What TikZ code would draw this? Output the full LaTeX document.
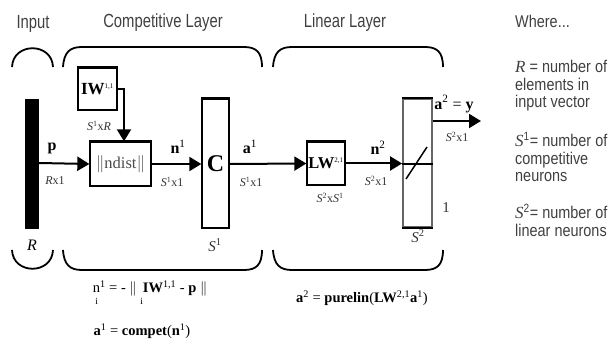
\documentclass[tikz,border=0pt]{standalone}
\usepackage{fontspec}
\setmainfont{Liberation Serif}
\newfontfamily\hdfont[FakeStretch=0.78]{Liberation Sans}
\newfontfamily\rtfont[FakeStretch=0.85]{Liberation Sans}
\usetikzlibrary{arrows.meta}
\newcommand\Sv[1]{\textit{S}\textsuperscript{#1}}
\newcommand\lowi{\raisebox{-0.8em}{\fontsize{9.5}{10}\selectfont i}}
\tikzset{
  brace/.style={line width=1.8pt},
  blk/.style={draw, line width=1.3pt, fill=white, inner sep=0pt},
  conn/.style={line width=2pt, -{Triangle[length=12pt,width=14pt]}},
  hd/.style={font=\hdfont\fontsize{19}{20}\selectfont, text=black!75},
  rt/.style={font=\rtfont\fontsize{17}{17.5}\selectfont, text=black!75, align=left, anchor=north west, inner sep=0pt},
  lab/.style={font=\fontsize{16}{17}\selectfont, inner sep=0pt},
  sm/.style={font=\fontsize{12}{13}\selectfont, inner sep=0pt, text=black!80},
  eq/.style={font=\fontsize{14.5}{15}\selectfont, inner sep=0pt},
}
\begin{document}
\begin{tikzpicture}[x=1pt,y=-1pt]
\useasboundingbox (0,0) rectangle (614,344);
% headings
\node[hd] (hin) at (33,24) {Input};
\node[hd] (hcomp) at (163,23) {Competitive Layer};
\node[hd] (hlin) at (345,23) {Linear Layer};
% braces
\draw[brace] (12,67) .. controls (13,42) and (52,42) .. (53,67);
\draw[brace] (12,250) .. controls (13,275) and (52,275) .. (53,250);
\draw[brace] (63,67) .. controls (64,52) and (70,47) .. (82,47) -- (244,47) .. controls (256,47) and (262,52) .. (262,67);
\draw[brace] (63,250) .. controls (64,265) and (70,270) .. (82,270) -- (244,270) .. controls (256,270) and (262,265) .. (262,250);
\draw[brace] (273,67) .. controls (274,52) and (280,47) .. (292,47) -- (425,47) .. controls (437,47) and (443,52) .. (443,67);
\draw[brace] (273,250) .. controls (274,265) and (280,270) .. (292,270) -- (425,270) .. controls (437,270) and (443,265) .. (443,250);
% input bar
\fill (25,99) rectangle (39,229);
\coordinate (inp) at (39,163);
\node[font=\fontsize{16}{17}\selectfont\itshape, inner sep=0pt] (lR) at (32,245) {R};
% IW box
\node[blk, minimum width=39pt, minimum height=42pt, font=\fontsize{17}{18}\selectfont] (iw) at (97.5,89) {\textbf{IW}\textsuperscript{\scriptsize 1,1}};
\draw[line width=2.4pt] (iw.north west) -- (iw.north east);
% ndist box
\node[blk, minimum width=61pt, minimum height=44pt, font=\fontsize{16.5}{17}\selectfont, text=black!70] (nd) at (120.5,164) {$\|$ndist$\|$};
\draw[line width=2.4pt] (nd.north west) -- (nd.north east);
% C box
\node[blk, minimum width=27pt, minimum height=129pt, font=\bfseries\fontsize{24}{26}\selectfont] (cb) at (215.5,163.5) {C};
\draw[line width=2.4pt] (cb.north west) -- (cb.north east);
% LW box
\node[blk, minimum width=38pt, minimum height=43pt, font=\fontsize{16.5}{17}\selectfont] (lw) at (326,163.5) {\textbf{LW}\textsuperscript{\scriptsize 2,1}};
\draw[line width=2.4pt] (lw.north west) -- (lw.north east);
% linear box
\node[blk, draw=black!60, line width=1.8pt, minimum width=29pt, minimum height=128pt] (lb) at (417.5,163) {};
\draw[line width=2.4pt] (lb.north west) -- (lb.north east);
\draw[line width=1.8pt] (lb.south west) -- (lb.south east);
\draw[line width=1.3pt] (lb.west |- 0,164) -- (lb.east |- 0,164);
\draw[line width=1.5pt] (406,179) -- (427,147);
\coordinate (yout) at (481,121);
% connectors
\draw[conn] (inp) -- (nd.west);
\draw[conn] (iw.east |- 0,89) -- (124,89) -- (124,0 |- nd.north);
\draw[conn] (nd.east) -- (cb.west |- nd.east);
\draw[conn] (cb.east |- nd.east) -- (lw.west);
\draw[conn] (lw.east) -- (lb.west |- lw.east);
\draw[conn] (lb.east |- yout) -- (yout);
% labels
\node[lab] (lp) at (52,148) {\textbf{p}};
\node[sm] (lrx) at (55,181) {\textit{R}x1};
\node[sm] (lsr) at (99,126) {\Sv{1}x\textit{R}};
\node[lab] (ln1) at (178,147) {\textbf{n}\textsuperscript{1}};
\node[sm] (ls1a) at (172,182) {\Sv{1}x1};
\node[lab] (la1) at (250,147) {\textbf{a}\textsuperscript{1}};
\node[sm] (ls1b) at (251,182) {\Sv{1}x1};
\node[sm] (ls1) at (215,245) {\fontsize{15}{16}\selectfont\Sv{1}};
\node[lab] (ln2) at (378,148) {\textbf{n}\textsuperscript{2}};
\node[sm] (ls2a) at (376,181) {\Sv{2}x1};
\node[sm] (ls2s1) at (330,198) {\Sv{2}x\Sv{1}};
\node[lab] (la2) at (454,104) {\textbf{a}\textsuperscript{2} = \textbf{y}};
\node[sm] (ls2b) at (457,137) {\Sv{2}x1};
\node[sm] (lone) at (446,208) {\fontsize{15}{16}\selectfont 1};
\node[sm] (ls2) at (418,236) {\fontsize{15}{16}\selectfont\Sv{2}};
% equations
\node[eq, anchor=base] (eq1) at (150,293) {n\llap{\lowi\hspace{2pt}}\textsuperscript{1} = - $\|$ \lowi\textbf{IW}\textsuperscript{1,1} - \textbf{p} $\|$};
\node[eq] (eq2) at (142,331) {\textbf{a}\textsuperscript{1} = \textbf{compet}(\textbf{n}\textsuperscript{1})};
\node[eq] (eq3) at (362,298) {\textbf{a}\textsuperscript{2} = \textbf{purelin}(\textbf{LW}\textsuperscript{2,1}\textbf{a}\textsuperscript{1})};
% right text
\node[rt] (wh) at (515,15) {Where...};
\node[rt] (tR) at (515,60) {{\rmfamily\itshape R} = number of\\elements in\\input vector};
\node[rt] (tS1) at (515,132) {{\rmfamily\itshape S}\textsuperscript{1}= number of\\competitive\\neurons};
\node[rt] (tS2) at (515,204) {{\rmfamily\itshape S}\textsuperscript{2}= number of\\linear neurons};
\end{tikzpicture}
\end{document}
